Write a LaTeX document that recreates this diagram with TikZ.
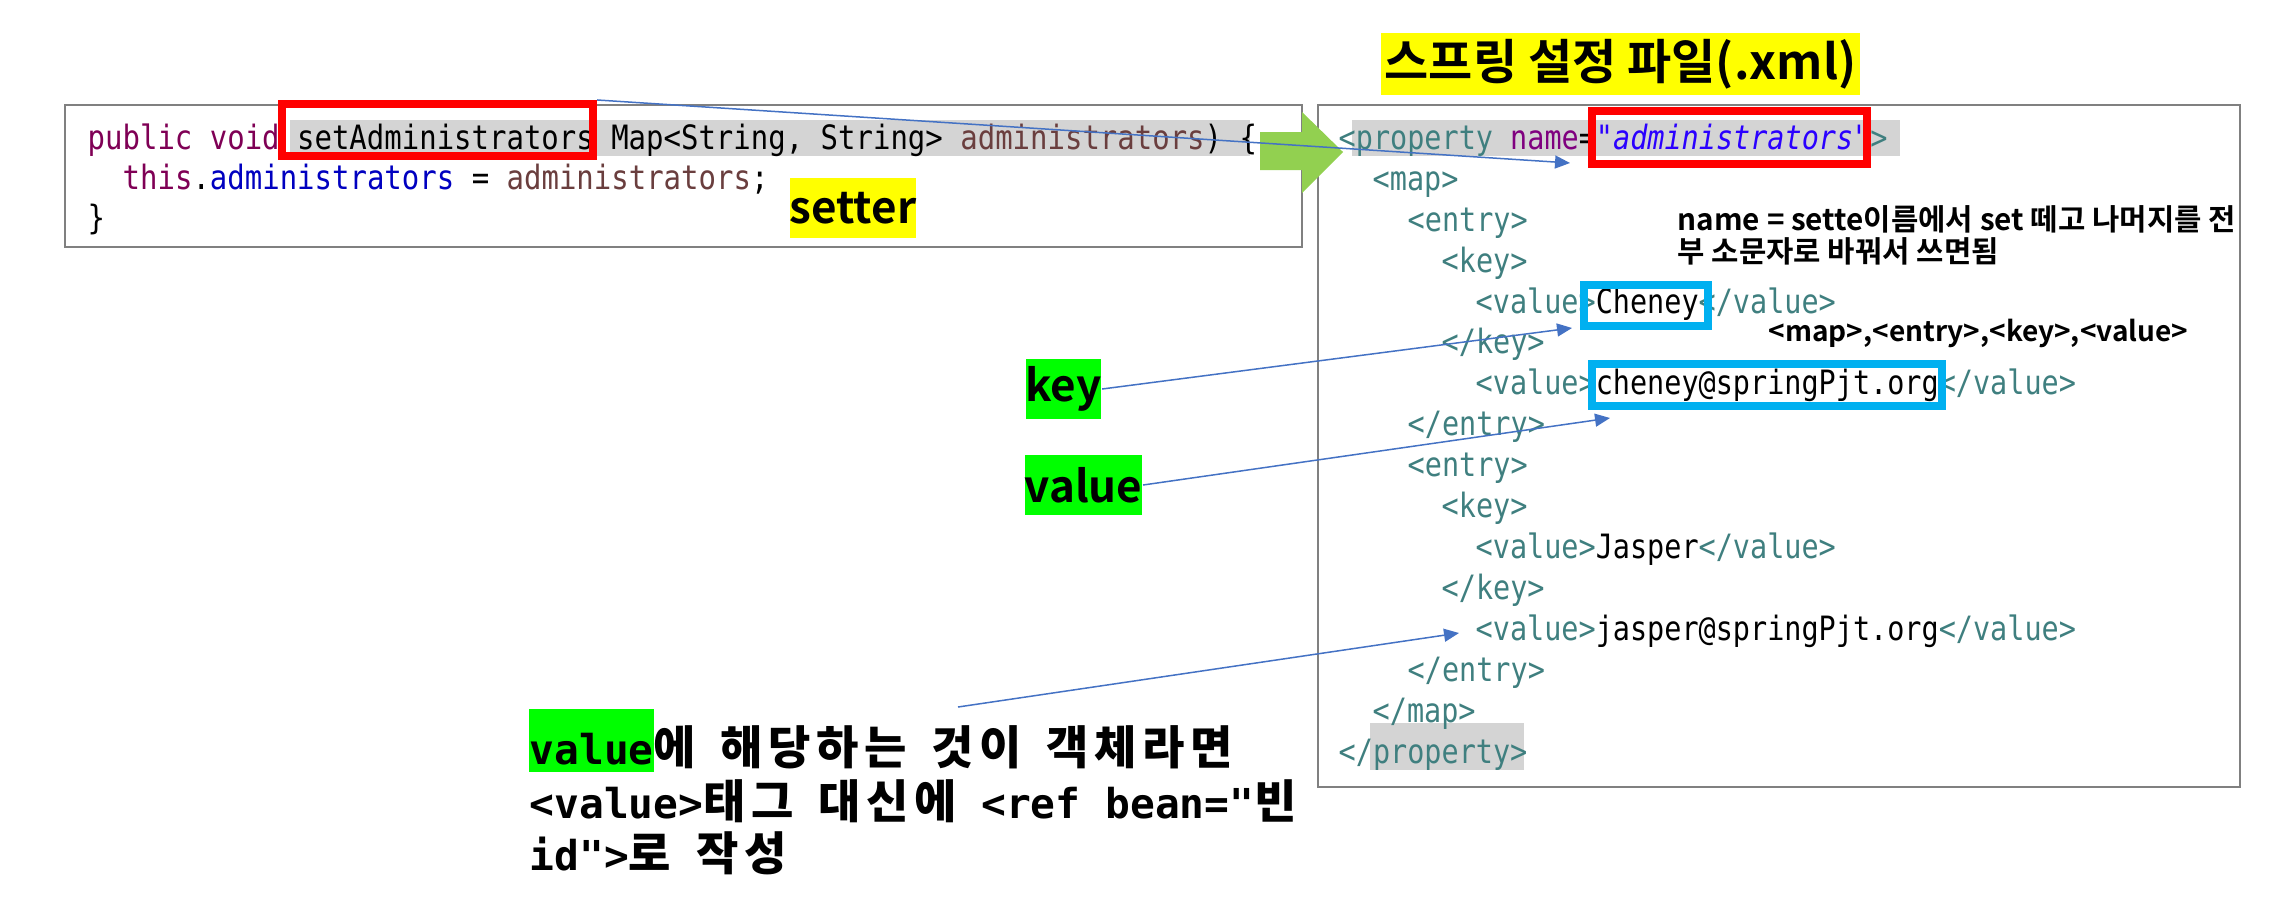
\documentclass[tikz,border=0pt]{standalone}
\usepackage{fontspec}
\setmainfont{Noto Sans CJK KR}[BoldFont={Noto Sans CJK KR Bold}]
\newfontfamily\codefont{DejaVu Sans Mono}[FakeStretch=0.85]
\newfontfamily\javafont{DejaVu Sans Mono}[FakeStretch=0.865]
\newfontfamily\monofont{DejaVu Sans Mono}
\newfontfamily\kogrid{Noto Sans CJK KR Bold}[LetterSpace=12]
\usetikzlibrary{arrows.meta}

\definecolor{tagcol}{HTML}{3F7F7F}
\definecolor{attrcol}{HTML}{7F007F}
\definecolor{strcol}{HTML}{2A00FF}
\definecolor{kwcol}{HTML}{7F0055}
\definecolor{fieldcol}{HTML}{0000C0}
\definecolor{varcol}{HTML}{6A3E3E}
\definecolor{hlgray}{HTML}{D4D4D4}
\definecolor{framegray}{HTML}{808080}
\definecolor{markred}{HTML}{FF0000}
\definecolor{markblue}{HTML}{00B0F0}
\definecolor{linkblue}{HTML}{4472C4}
\definecolor{arrowgreen}{HTML}{92D050}
\definecolor{labelgreen}{HTML}{00FF00}
\definecolor{labelyellow}{HTML}{FFFF00}

\newcommand{\ko}[1]{{\kogrid\fontsize{13.09pt}{15pt}\selectfont #1}}

\tikzset{
    code/.style={anchor=base west, inner sep=0pt, font=\codefont\fontsize{9.53pt}{11pt}\selectfont},
    java/.style={code, font=\javafont\fontsize{9.53pt}{11pt}\selectfont},
    xmlline/.style={code, text=tagcol},
    redbox/.style={draw=markred, line width=0.08cm, inner sep=0pt},
    bluebox/.style={draw=markblue, line width=0.08cm, inner sep=0pt},
    notelabel/.style={inner sep=0pt, minimum height=0.6cm, font=\bfseries\fontsize{12.5pt}{15pt}\selectfont},
    note/.style={anchor=base west, inner sep=0pt, font=\bfseries\fontsize{8.45pt}{9.1pt}\selectfont},
    bottomnote/.style={anchor=base west, inner sep=0pt, font=\monofont\bfseries\fontsize{11.72pt}{13pt}\selectfont},
    link/.style={draw=linkblue, line width=0.015cm, -{Triangle[length=0.15cm,width=0.13cm]}}
}

\begin{document}
\begin{tikzpicture}[x=0.01cm,y=-0.01cm]
        \useasboundingbox (0,0) rectangle (2280,906);

        % highlights
        \fill[hlgray] (290,120) rectangle (1250,156);
        \fill[hlgray] (1352,120) rectangle (1900,156);
        \fill[hlgray] (1370,723) rectangle (1524,770);

        % frames
        \draw[framegray, line width=0.025cm] (65,105) rectangle (1302,247);
        \draw[framegray, line width=0.025cm] (1318,105) rectangle (2240,787);

        \fill[arrowgreen] (1260,132) -- (1302,132) -- (1302,112) -- (1343,152)
            -- (1302,193) -- (1302,170) -- (1260,170) -- cycle;

        % java setter
        \node[java] (jline1) at (87,149) {\textcolor{kwcol}{public void} setAdministrators Map<String, String> \textcolor{varcol}{administrators}) \{};
        \node[java] (jline2) at (122,189) {\textcolor{kwcol}{this}.\textcolor{fieldcol}{administrators} = \textcolor{varcol}{administrators};};
        \node[java] (jline3) at (87,229) {\}};

        % xml
        \node[xmlline] (x0) at (1338,149) {<property \textcolor{attrcol}{name}\textcolor{black}{=}\textcolor{strcol}{\itshape "administrators"}>};
        \node[xmlline] (x1) at (1372,190) {<map>};
        \node[xmlline] (x2) at (1407,231) {<entry>};
        \node[xmlline] (x3) at (1441,272) {<key>};
        \node[xmlline] (x4) at (1475,313) {<value>\textcolor{black}{Cheney}</value>};
        \node[xmlline] (x5) at (1441,353) {</key>};
        \node[xmlline] (x6) at (1475,394) {<value>\textcolor{black}{cheney@springPjt.org}</value>};
        \node[xmlline] (x7) at (1407,435) {</entry>};
        \node[xmlline] (x8) at (1407,476) {<entry>};
        \node[xmlline] (x9) at (1441,517) {<key>};
        \node[xmlline] (x10) at (1475,558) {<value>\textcolor{black}{Jasper}</value>};
        \node[xmlline] (x11) at (1441,599) {</key>};
        \node[xmlline] (x12) at (1475,640) {<value>\textcolor{black}{jasper@springPjt.org}</value>};
        \node[xmlline] (x13) at (1407,681) {</entry>};
        \node[xmlline] (x14) at (1372,722) {</map>};
        \node[xmlline] (x15) at (1338,763) {</property>};

        \node[redbox, minimum width=3.11cm, minimum height=0.52cm] (setName) at (437.5,130) {};
        \node[redbox, minimum width=2.75cm, minimum height=0.53cm] (propName) at (1729.5,137.5) {};
        \node[bluebox, minimum width=1.24cm, minimum height=0.41cm] (keyBox) at (1646,305.5) {};
        \node[bluebox, minimum width=3.50cm, minimum height=0.42cm] (valBox) at (1767,385) {};

        % titles and notes
        \node[fill=labelyellow, inner sep=0pt, minimum width=4.79cm, minimum height=0.61cm,
            font=\bfseries\fontsize{13.66pt}{16pt}\selectfont] (title) at (1620.5,64) {스프링 설정 파일(.xml)};
        \node[notelabel, fill=labelyellow, minimum width=1.24cm] (setter) at (853,208) {setter};
        \node[notelabel, fill=labelgreen, minimum width=0.75cm] (keylbl) at (1063.5,389) {key};
        \node[notelabel, fill=labelgreen, minimum width=1.15cm] (vallbl) at (1083.5,485) {value};

        \node[note] (rule1) at (1677,230) {name = sette이름에서 set 떼고 나머지를 전};
        \node[note] (rule2) at (1677,262) {부 소문자로 바꿔서 쓰면됨};
        \node[note, font=\bfseries\fontsize{7.97pt}{9pt}\selectfont] (taglist) at (1768,341) {<map>,<entry>,<key>,<value>};

        \fill[labelgreen] (529,709) rectangle (654,772);
        \node[bottomnote] (obj1) at (529,764) {value\ko{에} \ko{해당하는} \ko{것이} \ko{객체라면}};
        \node[bottomnote] (obj2) at (529,818) {<value>\ko{태그} \ko{대신에} <ref bean="\ko{빈}};
        \node[bottomnote] (obj3) at (529,870) {id">\ko{로} \ko{작성}};

        % connectors
        \coordinate (propTip) at (1570,163);
        \coordinate (keyTip) at (1572,328);
        \coordinate (valTip) at (1610,418);
        \coordinate (refStart) at (958,707);
        \coordinate (refTip) at (1459,633);
        \draw[link] (setName.north east) -- (propTip);
        \draw[link] (keylbl.east) -- (keyTip);
        \draw[link] (vallbl.east) -- (valTip);
        \draw[link] (refStart) -- (refTip);
    \end{tikzpicture}
\end{document}
